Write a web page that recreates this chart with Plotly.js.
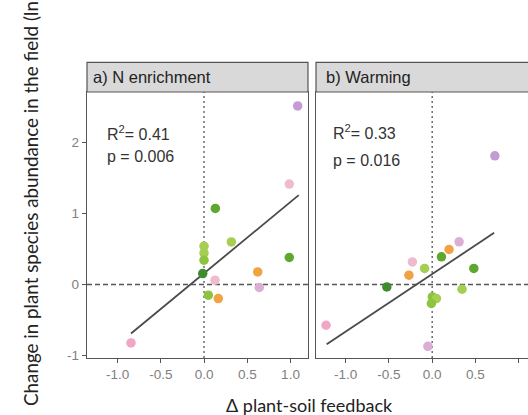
<!DOCTYPE html>
<html>
<head>
<meta charset="utf-8">
<script src="https://cdn.plot.ly/plotly-3.0.1.min.js"></script>
<style>html,body{margin:0;padding:0;background:#fff;}</style>
</head>
<body>
<div id="chart" style="width:528px;height:415px;"></div>
<script>
// Panel a) N enrichment
var nX = [1.083, 0.986, 0.131, 0.316, 0.986, 0.621, 0.639, 0.127, 0.0, 0.0, 0.0, -0.015, 0.05, 0.165, -0.844];
var nY = [2.52, 1.417, 1.073, 0.60, 0.381, 0.178, -0.042, 0.061, 0.541, 0.446, 0.343, 0.155, -0.151, -0.198, -0.825];
var nGroup = ['purple','lightpink','green','yellowgreen','green','orange','lavender','lightpink','yellowgreen','yellowgreen','lightgreen','darkgreen','lightgreen','orange','pink'];
var nFitX = [-0.844, 1.095];
var nFitY = [-0.692, 1.261];
// Panel b) Warming
var wX = [0.724, 0.311, 0.195, 0.107, -0.229, -0.087, -0.269, 0.481, -0.524, 0.345, 0.002, 0.049, -0.009, -1.226, -0.049];
var wY = [1.816, 0.602, 0.494, 0.39, 0.319, 0.226, 0.131, 0.226, -0.034, -0.066, -0.175, -0.198, -0.268, -0.575, -0.872];
var wGroup = ['purple','lavender','orange','green','lightpink','yellowgreen','orange','green','darkgreen','yellowgreen','lightgreen','yellowgreen','lightgreen','pink','lavender'];
var wFitX = [-1.219, 0.716];
var wFitY = [-0.843, 0.729];

var panelTitles = ['a) N enrichment', 'b) Warming'];
var statsR2 = ['0.41', '0.33'];
var statsP = ['0.006', '0.016'];
var xTicks = [-1.0, -0.5, 0.0, 0.5, 1.0];
var yTicks = [-1, 0, 1, 2];

var palette = {
  purple: '#c59bd3', lightpink: '#efbccf', pink: '#f2a6c5', lavender: '#dbaed6',
  orange: '#f0a244', darkgreen: '#3e8c2e', green: '#5fa82f', yellowgreen: '#a5ce52', lightgreen: '#8dc33f'
};

function cols(g){ return g.map(function(k){ return palette[k]; }); }

var traces = [
  {x: nFitX, y: nFitY, xaxis:'x', yaxis:'y', mode:'lines', line:{color:'#4a4a4a', width:1.8}, hoverinfo:'skip'},
  {x: nX, y: nY, xaxis:'x', yaxis:'y', mode:'markers', marker:{size:9.5, color: cols(nGroup)}},
  {x: wFitX, y: wFitY, xaxis:'x2', yaxis:'y2', mode:'lines', line:{color:'#4a4a4a', width:1.8}, hoverinfo:'skip'},
  {x: wX, y: wY, xaxis:'x2', yaxis:'y2', mode:'markers', marker:{size:9.5, color: cols(wGroup)}}
];

var tickFont = {family:'Arial, Liberation Sans, sans-serif', size:13.5, color:'#808080'};
var axCommon = {
  showgrid:false, zeroline:false, showline:true, linecolor:'#555', linewidth:1.2,
  ticks:'outside', ticklen:4, tickcolor:'#555', tickwidth:1, tickfont: tickFont
};

var xaxis = Object.assign({}, axCommon, {domain:[0, 0.5011], range:[-1.353, 1.202], tickvals:xTicks, ticktext:xTicks.map(function(v){return v.toFixed(1);}), mirror:true, anchor:'y'});
var xaxis2 = Object.assign({}, axCommon, {domain:[0.5193, 1], range:[-1.342, 1.107], tickvals:xTicks, ticktext:xTicks.map(function(v){return v.toFixed(1);}), mirror:true, anchor:'y2'});
var yaxis = Object.assign({}, axCommon, {domain:[0,1], range:[-1.037, 2.716], tickvals:yTicks, ticktext:yTicks.map(String), mirror:true, anchor:'x'});
var yaxis2 = Object.assign({}, axCommon, {domain:[0,1], range:[-1.037, 2.716], tickvals:yTicks, showticklabels:false, ticks:'', mirror:false, anchor:'x2'});

var refLine = {color:'#555', width:1.3};
var shapes = [
  {type:'line', xref:'x', yref:'y', x0:-1.353, x1:1.202, y0:0, y1:0, line:Object.assign({dash:'5px,3px'}, refLine), layer:'below'},
  {type:'line', xref:'x', yref:'y', x0:0, x1:0, y0:-1.037, y1:2.716, line:Object.assign({dash:'2px,3px'}, refLine), layer:'below'},
  {type:'line', xref:'x2', yref:'y2', x0:-1.342, x1:1.107, y0:0, y1:0, line:Object.assign({dash:'5px,3px'}, refLine), layer:'below'},
  {type:'line', xref:'x2', yref:'y2', x0:0, x1:0, y0:-1.037, y1:2.716, line:Object.assign({dash:'2px,3px'}, refLine), layer:'below'},
  {type:'rect', xref:'x domain', yref:'paper', x0:0, x1:1, y0:1, y1:1.111, fillcolor:'#d9d9d9', line:{color:'#555', width:1.2}},
  {type:'rect', xref:'x2 domain', yref:'paper', x0:0, x1:1.1, y0:1, y1:1.111, fillcolor:'#d9d9d9', line:{color:'#555', width:1.2}}
];

var textFont = {family:'Arial, Liberation Sans, sans-serif', size:16, color:'#333'};
var stripFont = {family:'Arial, Liberation Sans, sans-serif', size:16.5, color:'#222'};
var annotations = [
  {xref:'x domain', yref:'paper', x:0.02, y:1.0555, xanchor:'left', yanchor:'middle', text:panelTitles[0], showarrow:false, font:stripFont},
  {xref:'x2 domain', yref:'paper', x:0.04, y:1.0555, xanchor:'left', yanchor:'middle', text:panelTitles[1], showarrow:false, font:stripFont},
  {xref:'x', yref:'y', x:-1.145, y:2.14, xanchor:'left', yanchor:'middle', text:'R<sup>2</sup>= ' + statsR2[0], showarrow:false, font:textFont},
  {xref:'x', yref:'y', x:-1.145, y:1.80, xanchor:'left', yanchor:'middle', text:'p = ' + statsP[0], showarrow:false, font:textFont},
  {xref:'x2', yref:'y2', x:-1.168, y:2.155, xanchor:'left', yanchor:'middle', text:'R<sup>2</sup>= ' + statsR2[1], showarrow:false, font:textFont},
  {xref:'x2', yref:'y2', x:-1.168, y:1.755, xanchor:'left', yanchor:'middle', text:'p = ' + statsP[1], showarrow:false, font:textFont},
  {xref:'paper', yref:'paper', x:0.504, y:-0.177, xanchor:'center', yanchor:'middle', text:'Δ plant-soil feedback', showarrow:false, font:{family:'Lato, Open Sans, sans-serif', size:18, color:'#222'}},
  {xref:'paper', yref:'paper', x:-0.127, y:0.613, xanchor:'center', yanchor:'middle', textangle:-90, text:'Change in plant species abundance in the field (lnR)', showarrow:false, font:{family:'Lato, Open Sans, sans-serif', size:18.8, color:'#222'}}
];

var layout = {
  width:528, height:415,
  margin:{l:87, r:0, t:92, b:57},
  paper_bgcolor:'#fff', plot_bgcolor:'#fff',
  showlegend:false,
  xaxis:xaxis, xaxis2:xaxis2, yaxis:yaxis, yaxis2:yaxis2,
  shapes:shapes, annotations:annotations
};

Plotly.newPlot('chart', traces, layout, {staticPlot:true, displayModeBar:false});
</script>
</body>
</html>
